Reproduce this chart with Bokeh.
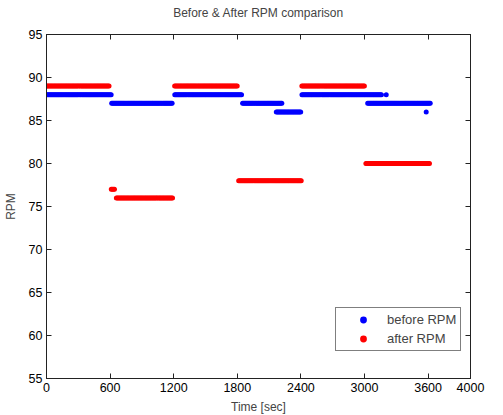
import numpy as np
from bokeh.plotting import figure
from bokeh.models import (LinearAxis, FixedTicker, Legend, LegendItem, Range1d,
                          CustomLabelingPolicy)
from bokeh.embed import file_html
from bokeh.resources import INLINE

# Piecewise-constant RPM readings (seconds, RPM)
before_start = [0, 615, 1210, 1850, 2168, 2410, 3030, 3205, 3582]
before_end   = [612, 1190, 1848, 2227, 2407, 3160, 3620, 3205, 3582]
before_rpm   = [88, 87, 88, 87, 86, 88, 87, 88, 86]

after_start = [0, 611, 659, 1209, 1813, 2409, 3013]
after_end   = [596, 642, 1191, 1805, 2407, 3005, 3619]
after_rpm   = [89, 77, 76, 89, 78, 89, 80]

sample_step = 10  # seconds between logged samples

x_ticks = [0, 600, 1200, 1800, 2400, 3000, 3600, 4000]
y_ticks = [55, 60, 65, 70, 75, 80, 85, 90, 95]


def expand(starts, ends, vals):
    t, v = [], []
    for s, e, r in zip(starts, ends, vals):
        ts = list(range(s, e + 1, sample_step)) or [s]
        t += ts
        v += [r] * len(ts)
    return t, v


bt, bv = expand(before_start, before_end, before_rpm)
at, av = expand(after_start, after_end, after_rpm)

FONT = "Liberation Sans"
AX = "#222222"

p = figure(width=487, height=416, x_range=Range1d(0, 4000), y_range=Range1d(55, 95),
           output_backend="svg", toolbar_location=None,
           title="Before & After RPM comparison",
           min_border_left=45, min_border_right=6, min_border_top=32, min_border_bottom=34)
p.title.align = "center"
p.title.text_font = FONT
p.title.text_font_size = "12px"
p.title.text_font_style = "normal"
p.title.standoff = 6
p.xgrid.visible = False
p.ygrid.visible = False
p.outline_line_color = AX

rb = p.scatter(bt, bv, size=5, color="#0000ff", line_color=None)
ra = p.scatter(at, av, size=5, color="#ff0000", line_color=None)

hide_all = CustomLabelingPolicy(code="""
const all = [...indices]
for (const i of all) indices.unset(i)
return indices
""")


def style(ax, ticks, labels=True):
    ax.ticker = FixedTicker(ticks=ticks)
    ax.major_tick_in = 5
    ax.major_tick_out = 0
    ax.minor_tick_line_color = None
    ax.axis_line_color = AX
    ax.major_tick_line_color = AX
    ax.major_label_text_font = FONT
    ax.major_label_text_font_size = "12.5px"
    ax.major_label_text_color = "#000000"
    ax.axis_label_text_font = FONT
    ax.axis_label_text_font_size = "12px"
    ax.axis_label_text_font_style = "normal"
    if not labels:
        ax.major_label_policy = hide_all
        ax.major_label_standoff = 0


style(p.xaxis[0], x_ticks)
style(p.yaxis[0], y_ticks)
p.xaxis[0].axis_label = "Time [sec]"
p.xaxis[0].major_label_standoff = 4
p.xaxis[0].axis_label_standoff = 5
p.yaxis[0].axis_label = "RPM"
p.yaxis[0].major_label_standoff = 4
p.yaxis[0].axis_label_standoff = 8

top = LinearAxis()
style(top, x_ticks, labels=False)
right = LinearAxis()
style(right, y_ticks, labels=False)
p.add_layout(top, "above")
p.add_layout(right, "right")

legend = Legend(items=[LegendItem(label="before RPM", renderers=[rb]),
                       LegendItem(label="after RPM", renderers=[ra])],
                location=(289, 27))
legend.border_line_color = "#000000"
legend.label_text_font = FONT
legend.label_text_font_size = "13px"
legend.padding = 3
legend.spacing = 2
legend.glyph_width = 48
legend.glyph_height = 17
legend.label_height = 17
legend.label_width = 70
legend.label_standoff = 0
legend.margin = 0
p.add_layout(legend)

open("out.html", "w").write(file_html(p, INLINE))
